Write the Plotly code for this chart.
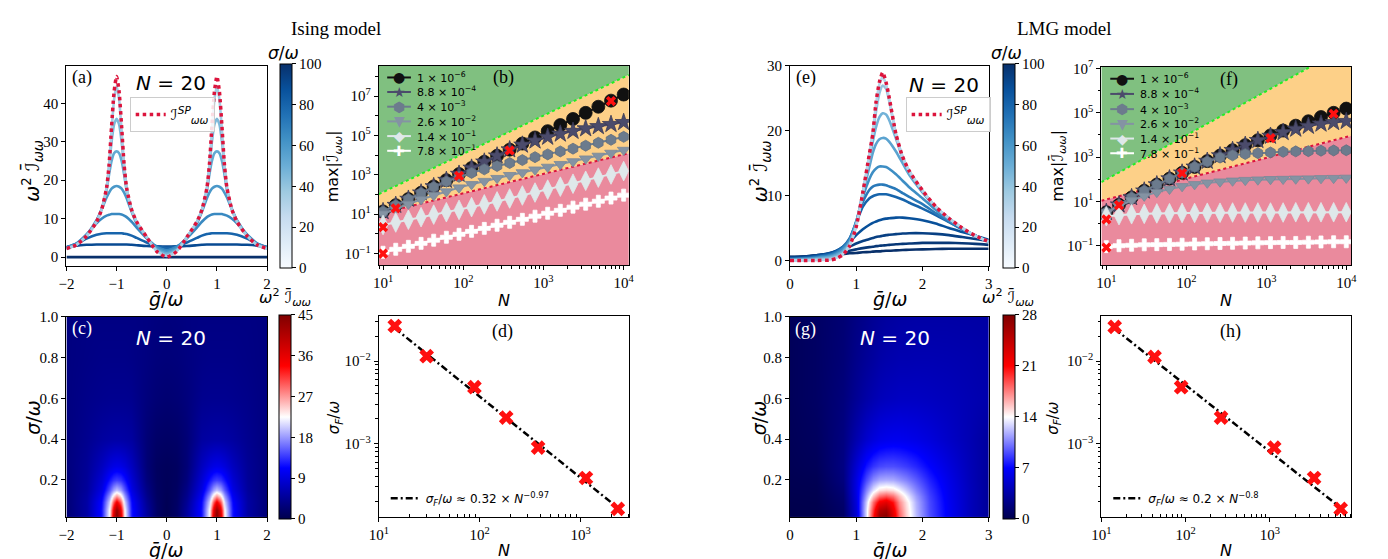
import plotly.graph_objects as go
from plotly.colors import sample_colorscale, sequential

W, H = 1388, 559
SERIF = "Liberation Serif"
SANS = "DejaVu Sans"

# ======================= DATA =======================
# ---- panel (a): Ising, N = 20, curves vs g/omega for several sigma ----
g_a = [-2.0, -1.8, -1.6, -1.4, -1.3, -1.2, -1.15, -1.1, -1.05, -1.0, -0.95, -0.9, -0.85, -0.8, -0.7, -0.6, -0.4, -0.2, 0.0,
       0.2, 0.4, 0.6, 0.7, 0.8, 0.85, 0.9, 0.95, 1.0, 1.05, 1.1, 1.15, 1.2, 1.3, 1.4, 1.6, 1.8, 2.0]
sp_a = [2.2, 3.2, 5.5, 9.2, 12.3, 18, 24, 34, 43, 47, 43, 34, 24, 18, 12.3, 9.2, 5.2, 1.5, 0.0,
        1.5, 5.2, 9.2, 12.3, 18, 24, 34, 43, 47, 43, 34, 24, 18, 12.3, 9.2, 5.5, 3.2, 2.2]
a_s100 = [0.0] * len(g_a)
a_s90 = [2.6, 3.0, 3.2, 3.3, 3.3, 3.3, 3.3, 3.3, 3.3, 3.3, 3.3, 3.3, 3.3, 3.3, 3.2, 3.1, 2.9, 2.8, 2.75,
         2.8, 2.9, 3.1, 3.2, 3.3, 3.3, 3.3, 3.3, 3.3, 3.3, 3.3, 3.3, 3.3, 3.3, 3.3, 3.2, 3.0, 2.6]
a_s80 = [2.6, 3.5, 4.8, 5.8, 6.1, 6.2, 6.2, 6.2, 6.2, 6.2, 6.2, 6.2, 6.1, 6.0, 5.6, 5.0, 3.8, 2.8, 2.4,
         2.8, 3.8, 5.0, 5.6, 6.0, 6.1, 6.2, 6.2, 6.2, 6.2, 6.2, 6.2, 6.2, 6.1, 5.8, 4.8, 3.5, 2.6]
a_s66 = [2.5, 3.6, 5.9, 8.8, 10.0, 10.8, 11.0, 11.2, 11.2, 11.2, 11.2, 11.1, 10.8, 10.4, 9.2, 7.7, 4.9, 2.7, 1.8,
         2.7, 4.9, 7.7, 9.2, 10.4, 10.8, 11.1, 11.2, 11.2, 11.2, 11.2, 11.0, 10.8, 10.0, 8.8, 5.9, 3.6, 2.5]
a_s60 = [2.4, 3.4, 5.8, 9.6, 12.4, 15.5, 16.8, 17.8, 18.3, 18.5, 18.3, 17.8, 16.8, 15.3, 11.8, 8.7, 5.0, 2.3, 1.4,
         2.3, 5.0, 8.7, 11.8, 15.3, 16.8, 17.8, 18.3, 18.5, 18.3, 17.8, 16.8, 15.5, 12.4, 9.6, 5.8, 3.4, 2.4]
a_s52 = [2.3, 3.3, 5.6, 9.4, 12.5, 17.5, 21.5, 25, 27, 27.5, 27, 25, 21.5, 17.3, 12.2, 9.0, 5.2, 2.0, 1.0,
         2.0, 5.2, 9.0, 12.2, 17.3, 21.5, 25, 27, 27.5, 27, 25, 21.5, 17.5, 12.5, 9.4, 5.6, 3.3, 2.3]
a_s45 = [2.2, 3.2, 5.5, 9.3, 12.4, 18, 23.5, 30, 34.5, 36, 34.5, 30, 23.5, 17.8, 12.3, 9.2, 5.2, 1.8, 0.6,
         1.8, 5.2, 9.2, 12.3, 17.8, 23.5, 30, 34.5, 36, 34.5, 30, 23.5, 18, 12.4, 9.3, 5.5, 3.2, 2.2]
a_s35 = [2.2, 3.2, 5.5, 9.2, 12.3, 18, 24, 33, 41, 44.5, 41, 33, 24, 18, 12.3, 9.2, 5.2, 1.6, 0.3,
         1.6, 5.2, 9.2, 12.3, 18, 24, 33, 41, 44.5, 41, 33, 24, 18, 12.3, 9.2, 5.5, 3.2, 2.2]
sigma_a = [100, 90, 80, 66, 60, 52, 45, 35]
curves_a = [a_s100, a_s90, a_s80, a_s66, a_s60, a_s52, a_s45, a_s35]

# ---- panel (e): LMG, N = 20 ----
g_e = [0.0, 0.2, 0.4, 0.6, 0.7, 0.8, 0.9, 1.0, 1.1, 1.2, 1.25, 1.3, 1.35, 1.4, 1.45, 1.5, 1.6, 1.7, 1.8, 2.0, 2.2, 2.4, 2.6, 2.8, 3.0]
sp_e = [0, 0, 0, 0.05, 0.3, 0.9, 2.2, 5.2, 10.5, 16.5, 19.5, 24.5, 27.5, 29, 27.5, 25, 19.5, 16, 13.8, 10.8, 8.3, 6.5, 5.0, 3.8, 2.9]
e_s100 = [0.55, 0.6, 0.75, 0.9, 0.95, 1.0, 1.1, 1.15, 1.25, 1.3, 1.35, 1.4, 1.4, 1.45, 1.5, 1.5, 1.55, 1.6, 1.65, 1.7, 1.75, 1.8, 1.8, 1.8, 1.8]
e_s97 = [0.5, 0.6, 0.8, 1.0, 1.15, 1.3, 1.5, 1.7, 1.9, 2.05, 2.1, 2.2, 2.25, 2.3, 2.35, 2.4, 2.5, 2.55, 2.6, 2.7, 2.7, 2.7, 2.65, 2.55, 2.4]
e_s94 = [0.45, 0.55, 0.8, 1.15, 1.4, 1.7, 2.1, 2.6, 3.0, 3.3, 3.45, 3.6, 3.7, 3.8, 3.9, 3.95, 4.05, 4.15, 4.2, 4.2, 4.1, 3.9, 3.6, 3.3, 3.0]
e_s88 = [0.35, 0.45, 0.7, 1.1, 1.5, 2.1, 2.9, 3.9, 4.8, 5.5, 5.8, 6.0, 6.2, 6.35, 6.45, 6.5, 6.6, 6.6, 6.5, 6.2, 5.7, 5.0, 4.4, 3.8, 3.2]
e_s80 = [0.25, 0.35, 0.6, 0.95, 1.4, 2.1, 3.4, 5.8, 8.3, 9.6, 9.9, 10.1, 10.2, 10.2, 10.2, 10.1, 9.8, 9.4, 8.9, 8.0, 7.0, 5.9, 4.8, 3.8, 3.0]
e_s72 = [0.2, 0.3, 0.5, 0.85, 1.25, 2.0, 3.3, 6.0, 9.0, 10.9, 11.4, 11.6, 11.7, 11.7, 11.6, 11.4, 11.0, 10.4, 9.8, 8.7, 7.3, 6.0, 4.8, 3.7, 2.9]
e_s64 = [0.15, 0.25, 0.4, 0.7, 1.1, 1.8, 3.1, 6.0, 9.8, 12.6, 13.6, 14.2, 14.5, 14.5, 14.4, 14.1, 13.3, 12.3, 11.3, 9.6, 7.8, 6.2, 4.9, 3.8, 2.9]
e_s55 = [0.1, 0.15, 0.3, 0.55, 0.9, 1.5, 2.8, 5.8, 10.3, 14.5, 16.6, 18.0, 18.7, 18.9, 18.8, 18.3, 16.8, 15.0, 13.2, 10.5, 8.2, 6.4, 5.0, 3.8, 2.9]
e_s48 = [0.05, 0.1, 0.2, 0.4, 0.7, 1.3, 2.6, 5.6, 10.5, 15.5, 18.3, 20.6, 22.1, 22.7, 22.5, 21.6, 18.8, 15.8, 13.6, 10.7, 8.3, 6.5, 5.0, 3.8, 2.9]
e_s40 = [0.02, 0.05, 0.1, 0.25, 0.5, 1.1, 2.4, 5.4, 10.5, 16.2, 19.5, 23.0, 25.8, 27.0, 26.5, 24.5, 19.5, 16, 13.8, 10.8, 8.3, 6.5, 5.0, 3.8, 2.9]
e_s30 = [0, 0, 0.05, 0.15, 0.4, 1.0, 2.3, 5.3, 10.5, 16.5, 19.8, 24.2, 27.2, 28.3, 27.2, 24.8, 19.5, 16, 13.8, 10.8, 8.3, 6.5, 5.0, 3.8, 2.9]
sigma_e = [100, 97, 94, 88, 80, 72, 64, 55, 48, 40, 30]
curves_e = [e_s100, e_s97, e_s94, e_s88, e_s80, e_s72, e_s64, e_s55, e_s48, e_s40, e_s30]

# ---- panels (b) and (f): max I vs N ----
N_grid = [10, 14.4, 20.7, 29.8, 42.8, 61.6, 88.6, 127, 183, 264, 379, 546, 785, 1129, 1624, 2336, 3360, 4833, 6952, 10000]
series_labels = ["1 × 10<sup>−6</sup>", "8.8 × 10<sup>−4</sup>", "4 × 10<sup>−3</sup>",
                 "2.6 × 10<sup>−2</sup>", "1.4 × 10<sup>−1</sup>", "7.8 × 10<sup>−1</sup>"]

b_s1 = [13.8, 28.8, 58.9, 123, 257, 537, 1096, 2239, 4571, 9333, 1.906e4, 3.890e4, 7.943e4, 1.660e5, 3.388e5, 6.918e5, 1.413e6, 2.884e6, 5.888e6, 1.202e7]
b_s2 = [13.8, 28.8, 58.9, 123, 257, 537, 1096, 2239, 4571, 9333, 1.906e4, 3.311e4, 5.370e4, 8.318e4, 1.202e5, 1.660e5, 2.239e5, 2.884e5, 3.715e5, 4.677e5]
b_s3 = [13.8, 28.8, 58.9, 120, 240, 457, 794, 1259, 1905, 2818, 3981, 5623, 7943, 10965, 15488, 21380, 30200, 42658, 60256, 85114]
b_s4 = [10.5, 19.1, 33.1, 56.2, 91.2, 141, 224, 331, 479, 676, 955, 1318, 1820, 2512, 3467, 4786, 6607, 9120, 12882, 18197]
b_s5 = [2.82, 3.80, 5.25, 7.08, 9.55, 12.6, 16.6, 22.9, 31.6, 44.7, 63.1, 89.1, 126, 178, 251, 355, 501, 724, 1047, 1549]
b_s6 = [0.117, 0.166, 0.234, 0.331, 0.479, 0.676, 0.955, 1.35, 1.91, 2.75, 3.89, 5.50, 7.94, 11.2, 15.8, 22.9, 32.4, 45.7, 66.1, 93.3]
b_redx_N = [10, 10, 14.4, 88.6, 379, 6952]
b_redx_y = [0.1, 2.2, 20, 890, 1.74e4, 5.6e6]
b_green_N = [8.85, 11600]
b_green_y = [105, 1.2e8]
b_red_N = [8.85, 11600]
b_red_y = [10.5, 12600]

f_s1 = [3.24, 7.08, 15.1, 30.2, 57.5, 107, 195, 363, 661, 1175, 2042, 3467, 5754, 9550, 15849, 26303, 41687, 64565, 1.0e5, 1.549e5]
f_s2 = [3.24, 7.08, 15.1, 30.2, 57.5, 107, 195, 363, 661, 1175, 2042, 3467, 5754, 8913, 13183, 18621, 25119, 31623, 37154, 41687]
f_s3 = [3.24, 7.08, 15.1, 30.2, 57.5, 107, 195, 363, 631, 955, 1202, 1380, 1514, 1622, 1738, 1820, 1862, 1950, 1995, 2042]
f_s4 = [3.16, 6.31, 11.2, 17.8, 26.3, 36.3, 47.9, 58.9, 69.2, 77.6, 85.1, 91.2, 95.5, 100, 102, 105, 107, 110, 112, 115]
f_s5 = [2.14, 2.40, 2.63, 2.75, 2.88, 2.95, 3.02, 3.02, 3.09, 3.09, 3.16, 3.16, 3.16, 3.16, 3.16, 3.24, 3.24, 3.24, 3.24, 3.24]
f_s6 = [0.091, 0.100, 0.105, 0.110, 0.112, 0.115, 0.117, 0.120, 0.123, 0.126, 0.129, 0.132, 0.135, 0.138, 0.141, 0.141, 0.145, 0.148, 0.151, 0.151]
f_redx_N = [10, 10, 14.4, 88.6, 1129, 6952]
f_redx_y = [0.083, 1.55, 6.8, 190, 7200, 9.1e4]
f_green_N = [8.67, 11600]
f_green_y = [74, 1.26e8]
f_red_N = [8.67, 11600]
f_red_y = [10.7, 9330]

# ---- panels (c) and (g): heat maps over (g/omega, sigma/omega) ----
sig_rows = [0.01, 0.05, 0.09, 0.12, 0.15, 0.2, 0.27, 0.4, 0.6, 0.8, 1.0]
g_c = [-2.0, -1.6, -1.3, -1.15, -1.07, -1.0, -0.93, -0.85, -0.7, -0.4, -0.2, 0.0,
       0.2, 0.4, 0.7, 0.85, 0.93, 1.0, 1.07, 1.15, 1.3, 1.6, 2.0]
z_c = [
    [2.5, 5.5, 12, 23, 38, 45, 38, 23, 12, 5.2, 1.5, 0.3, 1.5, 5.2, 12, 23, 38, 45, 38, 23, 12, 5.5, 2.5],
    [2.5, 5.5, 12, 22.5, 36, 43, 36, 22.5, 12, 5.0, 1.6, 0.4, 1.6, 5.0, 12, 22.5, 36, 43, 36, 22.5, 12, 5.5, 2.5],
    [2.6, 5.5, 11.5, 20.5, 30, 35, 30, 20.5, 11.5, 4.5, 1.5, 0.5, 1.5, 4.5, 11.5, 20.5, 30, 35, 30, 20.5, 11.5, 5.5, 2.6],
    [2.6, 5.3, 10.5, 18, 24, 27, 24, 18, 10.5, 4.0, 1.4, 0.6, 1.4, 4.0, 10.5, 18, 24, 27, 24, 18, 10.5, 5.3, 2.6],
    [2.7, 5.0, 9.5, 15, 18.5, 20, 18.5, 15, 9.5, 3.6, 1.3, 0.7, 1.3, 3.6, 9.5, 15, 18.5, 20, 18.5, 15, 9.5, 5.0, 2.7],
    [2.8, 4.8, 8.5, 12, 13.5, 14, 13.5, 12, 8.5, 3.0, 1.2, 0.8, 1.2, 3.0, 8.5, 12, 13.5, 14, 13.5, 12, 8.5, 4.8, 2.8],
    [3.0, 4.6, 7.2, 9.0, 9.6, 9.8, 9.6, 9.0, 7.2, 2.6, 1.2, 0.9, 1.2, 2.6, 7.2, 9.0, 9.6, 9.8, 9.6, 9.0, 7.2, 4.6, 3.0],
    [3.1, 4.2, 5.2, 5.5, 5.6, 5.6, 5.6, 5.5, 5.2, 2.6, 1.7, 1.5, 1.7, 2.6, 5.2, 5.5, 5.6, 5.6, 5.6, 5.5, 5.2, 4.2, 3.1],
    [3.2, 3.8, 4.1, 4.2, 4.2, 4.2, 4.2, 4.2, 4.1, 3.0, 2.5, 2.3, 2.5, 3.0, 4.1, 4.2, 4.2, 4.2, 4.2, 4.2, 4.1, 3.8, 3.2],
    [3.2, 3.5, 3.7, 3.7, 3.7, 3.7, 3.7, 3.7, 3.6, 3.2, 2.9, 2.8, 2.9, 3.2, 3.6, 3.7, 3.7, 3.7, 3.7, 3.7, 3.7, 3.5, 3.2],
    [3.2, 3.4, 3.4, 3.4, 3.4, 3.4, 3.4, 3.4, 3.4, 3.3, 3.1, 3.0, 3.1, 3.3, 3.4, 3.4, 3.4, 3.4, 3.4, 3.4, 3.4, 3.4, 3.2],
]
g_g = [0.0, 0.4, 0.8, 1.0, 1.15, 1.25, 1.35, 1.45, 1.55, 1.65, 1.75, 1.9, 2.1, 2.4, 2.7, 3.0]
z_g = [
    [0, 0, 0.9, 5.2, 13, 20.5, 27, 28, 23, 18.5, 15.5, 12.2, 9.2, 6.5, 4.4, 2.9],
    [0, 0.05, 1.0, 5.4, 13, 19.5, 25, 26, 22, 18, 15.2, 12, 9.1, 6.5, 4.4, 2.9],
    [0.05, 0.1, 1.2, 5.6, 12.5, 18, 21.5, 22.5, 20.5, 17.2, 14.8, 11.8, 9, 6.4, 4.4, 2.9],
    [0.1, 0.15, 1.4, 5.8, 11.5, 15.5, 18, 18.8, 17.8, 15.8, 13.8, 11.3, 8.8, 6.3, 4.4, 2.9],
    [0.15, 0.2, 1.6, 5.9, 10.5, 13.2, 14.8, 15.2, 14.8, 13.8, 12.5, 10.6, 8.5, 6.2, 4.4, 2.9],
    [0.2, 0.3, 1.9, 5.8, 9.0, 10.8, 11.6, 11.8, 11.7, 11.2, 10.6, 9.5, 7.9, 6.0, 4.3, 2.9],
    [0.3, 0.5, 2.1, 5.2, 7.4, 8.4, 8.9, 9.1, 9.1, 8.9, 8.6, 8.0, 7.0, 5.6, 4.2, 3.0],
    [0.4, 0.7, 2.0, 3.8, 5.0, 5.6, 6.0, 6.2, 6.3, 6.3, 6.2, 6.0, 5.6, 4.8, 4.0, 3.1],
    [0.5, 0.9, 1.8, 2.8, 3.5, 3.9, 4.2, 4.4, 4.5, 4.6, 4.6, 4.6, 4.5, 4.3, 4.0, 3.7],
    [0.5, 0.9, 1.6, 2.4, 2.9, 3.2, 3.5, 3.7, 3.8, 3.9, 3.9, 3.95, 3.95, 3.9, 3.8, 3.6],
    [0.5, 0.9, 1.5, 2.1, 2.5, 2.8, 3.0, 3.2, 3.3, 3.4, 3.45, 3.5, 3.5, 3.5, 3.45, 3.4],
]

# ---- panels (d) and (h): sigma_F vs N ----
d_N = [14.4, 29.8, 88.6, 183, 379, 1129, 2336]
d_sig = [0.0266, 0.01146, 0.00483, 0.00207, 0.000898, 0.000385, 0.000163]
d_fit_N = [14.4, 2336]
d_fit_sig = [0.025, 0.000168]
h_N = [14.4, 42.8, 88.6, 264, 1129, 3360, 6952]
h_sig = [0.026, 0.01127, 0.00483, 0.00207, 0.000898, 0.000385, 0.000163]
h_fit_N = [14.4, 6952]
h_fit_sig = [0.0245, 0.000168]

# tick labels
log_tv_b = [0.1, 10, 1e3, 1e5, 1e7]
log_tt_b = ["10<sup>−1</sup>", "10<sup>1</sup>", "10<sup>3</sup>", "10<sup>5</sup>", "10<sup>7</sup>"]
log_tv_N = [10, 100, 1000, 10000]
log_tt_N = ["10<sup>1</sup>", "10<sup>2</sup>", "10<sup>3</sup>", "10<sup>4</sup>"]
log_tv_s = [1e-3, 1e-2]
log_tt_s = ["10<sup>−3</sup>", "10<sup>−2</sup>"]

# ======================= STYLE / LAYOUT =======================
BLUES = sequential.Blues
SEISMIC = [[0, 'rgb(0,0,77)'], [0.25, 'rgb(0,0,255)'], [0.5, 'rgb(255,255,255)'],
           [0.75, 'rgb(255,0,0)'], [1, 'rgb(128,0,0)']]
GREEN = 'rgb(128,192,128)'
ORANGE = 'rgb(253,208,136)'
PINK = 'rgb(234,138,157)'
Y_LO, Y_HI = 1e-4, 1e11

styles = [
    dict(symbol='circle', size=13, color='#111111', line='#111111'),
    dict(symbol='star', size=13, color='#4b4b6b', line='#3a3a55'),
    dict(symbol='hexagon', size=11, color='#6c7b8d', line='#5f6d7e'),
    dict(symbol='triangle-down', size=11, color='#8493a3', line='#7a8898'),
    dict(symbol='diamond-tall', size=14, color='#dfe8ea', line='#dfe8ea'),
    dict(symbol='cross', size=10, color='#ffffff', line='#ffffff'),
]
glyphs = ["●", "★", "⬢", "▼", "◆", "✚"]

boxes = {  # pixel boxes: x0, x1, y0, y1
    'a': (49, 252, 51, 255), 'b': (365, 618, 51, 254),
    'c': (49, 252, 307, 511), 'd': (365, 618, 306, 511),
    'e': (781, 982, 51, 255), 'f': (1096, 1349, 52, 254),
    'g': (781, 982, 307, 511), 'h': (1096, 1349, 306, 511),
}
ax_ids = {'a': 1, 'b': 2, 'c': 3, 'd': 4, 'e': 5, 'f': 6, 'g': 7, 'h': 8}


def px(x):
    return x / W


def py(y):
    return 1 - y / H


def xy(k):
    i = ax_ids[k]
    return ('x' if i == 1 else f'x{i}'), ('y' if i == 1 else f'y{i}')


fig = go.Figure()
annotations = []
shapes = []


def blue(s):
    return sample_colorscale(BLUES, [s / 100.0])[0]


def cbar(x0, x1, y0, y1, tickvals):
    return dict(x=px(x0), xanchor='left', xpad=0, y=py((y0 + y1) / 2), yanchor='middle', ypad=0,
                len=(y1 - y0), lenmode='pixels', thickness=(x1 - x0), thicknessmode='pixels',
                tickvals=tickvals, ticks='outside', ticklen=4, tickwidth=1, tickcolor='black',
                tickfont=dict(family=SERIF, size=15, color='black'), outlinewidth=1, outlinecolor='black')


SP_NAME = "ℐ<sup><i>SP</i></sup><sub><i>ωω</i></sub>"

# ---- (a) and (e) curves ----
for key, gx, curves, sigmas, sp, leg, cbx in [('a', g_a, curves_a, sigma_a, sp_a, 'legend', (265, 277)),
                                               ('e', g_e, curves_e, sigma_e, sp_e, 'legend2', (996, 1008))]:
    xa, ya = xy(key)
    for s, ys in zip(sigmas, curves):
        fig.add_trace(go.Scatter(x=gx, y=ys, mode='lines', xaxis=xa, yaxis=ya, showlegend=False,
                                 hoverinfo='skip',
                                 line=dict(color=blue(s), width=2.6, shape='spline', smoothing=0.6)))
    fig.add_trace(go.Scatter(x=gx, y=sp, mode='lines', xaxis=xa, yaxis=ya, name=SP_NAME, legend=leg,
                             line=dict(color='#dc143c', width=3.5, dash='dot', shape='spline', smoothing=0.6)))
    b = boxes[key]
    fig.add_trace(go.Scatter(x=[None], y=[None], mode='markers', xaxis=xa, yaxis=ya, showlegend=False,
                             marker=dict(color=[0], colorscale=BLUES, cmin=0, cmax=100, showscale=True,
                                         colorbar=cbar(cbx[0], cbx[1], b[2], b[3], [0, 20, 40, 60, 80, 100]))))

# ---- (c) and (g) heat maps ----
for key, gx, z, zmax, tv, cbx in [('c', g_c, z_c, 45, [0, 9, 18, 27, 36, 45], (264, 276)),
                                  ('g', g_g, z_g, 28, [0, 7, 14, 21, 28], (996, 1008))]:
    xa, ya = xy(key)
    b = boxes[key]
    fig.add_trace(go.Heatmap(x=gx, y=sig_rows, z=z, xaxis=xa, yaxis=ya, zmin=0, zmax=zmax,
                             colorscale=SEISMIC, zsmooth='best', hoverinfo='skip',
                             colorbar=cbar(cbx[0], cbx[1], b[2], b[3], tv)))

# ---- (b) and (f) ----
for key, series, rxN, rxY, gN, gY, rN, rY, lg in [
        ('b', [b_s1, b_s2, b_s3, b_s4, b_s5, b_s6], b_redx_N, b_redx_y, b_green_N, b_green_y, b_red_N, b_red_y,
         (385.5, 402, [62.7, 77.5, 92.5, 107.5, 122.5, 137.5])),
        ('f', [f_s1, f_s2, f_s3, f_s4, f_s5, f_s6], f_redx_N, f_redx_y, f_green_N, f_green_y, f_red_N, f_red_y,
         (1117, 1133, [64, 79.5, 95, 110, 125, 140]))]:
    xa, ya = xy(key)
    common = dict(xaxis=xa, yaxis=ya, showlegend=False, hoverinfo='skip', mode='lines', line=dict(width=0))
    fig.add_trace(go.Scatter(x=[rN[0], rN[1], rN[1], rN[0]], y=[Y_LO, Y_LO, rY[1], rY[0]],
                             fill='toself', fillcolor=PINK, **common))
    fig.add_trace(go.Scatter(x=[gN[0], gN[1], rN[1], rN[0]], y=[gY[0], gY[1], rY[1], rY[0]],
                             fill='toself', fillcolor=ORANGE, **common))
    fig.add_trace(go.Scatter(x=[gN[0], gN[1], gN[1], gN[0]], y=[gY[0], gY[1], Y_HI, Y_HI],
                             fill='toself', fillcolor=GREEN, **common))
    fig.add_trace(go.Scatter(x=gN, y=gY, mode='lines', xaxis=xa, yaxis=ya, showlegend=False, hoverinfo='skip',
                             line=dict(color='#22ee22', width=2, dash='dot')))
    fig.add_trace(go.Scatter(x=rN, y=rY, mode='lines', xaxis=xa, yaxis=ya, showlegend=False, hoverinfo='skip',
                             line=dict(color='#dc143c', width=2, dash='dot')))
    for ys, st in zip(series, styles):
        fig.add_trace(go.Scatter(x=N_grid, y=ys, mode='lines+markers', xaxis=xa, yaxis=ya, showlegend=False,
                                 hoverinfo='skip', line=dict(color=st['color'], width=2),
                                 marker=dict(symbol=st['symbol'], size=st['size'], color=st['color'],
                                             line=dict(color=st['line'], width=0.8))))
    fig.add_trace(go.Scatter(x=rxN, y=rxY, mode='markers', xaxis=xa, yaxis=ya, showlegend=False,
                             hoverinfo='skip', marker=dict(symbol='x', size=9, color='#ff1010',
                                                           line=dict(width=0))))
    cx, lx, rows = lg
    for lab, st, gl, ry in zip(series_labels, styles, glyphs, rows):
        shapes.append(dict(type='line', xref='paper', yref='paper', x0=px(cx - 12), x1=px(cx + 12),
                           y0=py(ry), y1=py(ry), line=dict(color=st['color'], width=2)))
        annotations.append(dict(x=px(cx), y=py(ry), xref='paper', yref='paper', text=gl, showarrow=False,
                                xanchor='center', yanchor='middle',
                                font=dict(family=SANS, size=14, color=st['color'])))
        annotations.append(dict(x=px(lx), y=py(ry), xref='paper', yref='paper', text=lab, showarrow=False,
                                xanchor='left', yanchor='middle', font=dict(family=SANS, size=11, color='black')))

# ---- (d) and (h) ----
for key, Nx, sg, fN, fS, leg, name in [
        ('d', d_N, d_sig, d_fit_N, d_fit_sig, 'legend3',
         "<i>σ<sub>F</sub></i>/<i>ω</i> ≈ 0.32 × <i>N</i><sup>−0.97</sup>"),
        ('h', h_N, h_sig, h_fit_N, h_fit_sig, 'legend4',
         "<i>σ<sub>F</sub></i>/<i>ω</i> ≈ 0.2 × <i>N</i><sup>−0.8</sup>")]:
    xa, ya = xy(key)
    fig.add_trace(go.Scatter(x=fN, y=fS, mode='lines', xaxis=xa, yaxis=ya, name=name, legend=leg,
                             line=dict(color='black', width=2.5, dash='7px,3px,2px,3px')))
    fig.add_trace(go.Scatter(x=Nx, y=sg, mode='markers', xaxis=xa, yaxis=ya, showlegend=False,
                             hoverinfo='skip', marker=dict(symbol='x', size=13, color='#ff1010', line=dict(width=0))))

# ---- axes ----
base = dict(showline=True, mirror=True, linecolor='black', linewidth=1.2, ticks='outside', ticklen=4,
            tickwidth=1, tickcolor='black', showgrid=False, zeroline=False,
            tickfont=dict(family=SERIF, size=15, color='black'))


def minor_log(lo, hi):
    return [m * 10.0 ** k for k in range(lo, hi) for m in range(2, 10)]


axes = {
    'a': (dict(range=[-2, 2], tickvals=[-2, -1, 0, 1, 2]), dict(range=[-2.3, 49.7], tickvals=[0, 10, 20, 30, 40])),
    'e': (dict(range=[0, 3], tickvals=[0, 1, 2, 3]), dict(range=[-0.86, 30], tickvals=[0, 10, 20, 30])),
    'c': (dict(range=[-2, 2], tickvals=[-2, -1, 0, 1, 2]),
          dict(range=[0.017, 1.0], tickvals=[0.2, 0.4, 0.6, 0.8, 1.0], tickformat='.1f')),
    'g': (dict(range=[0, 3], tickvals=[0, 1, 2, 3]),
          dict(range=[0.017, 1.0], tickvals=[0.2, 0.4, 0.6, 0.8, 1.0], tickformat='.1f')),
    'b': (dict(type='log', range=[0.947, 4.065], tickvals=log_tv_N, ticktext=log_tt_N,
               minor=dict(tickvals=minor_log(0, 4), ticks='outside', ticklen=2.5, tickcolor='black')),
          dict(type='log', range=[-1.58, 8.53], tickvals=log_tv_b, ticktext=log_tt_b,
               minor=dict(tickvals=[1, 100, 1e4, 1e6, 1e8], ticks='outside', ticklen=2.5, tickcolor='black'))),
    'f': (dict(type='log', range=[0.938, 4.065], tickvals=log_tv_N, ticktext=log_tt_N,
               minor=dict(tickvals=minor_log(0, 4), ticks='outside', ticklen=2.5, tickcolor='black')),
          dict(type='log', range=[-1.87, 7.07], tickvals=log_tv_b, ticktext=log_tt_b,
               minor=dict(tickvals=[1, 100, 1e4, 1e6], ticks='outside', ticklen=2.5, tickcolor='black'))),
    'd': (dict(type='log', range=[1, 3.478], tickvals=log_tv_N[:3], ticktext=log_tt_N[:3],
               minor=dict(tickvals=minor_log(1, 4), ticks='inside', ticklen=3, tickcolor='black')),
          dict(type='log', range=[-3.886, -1.454], tickvals=log_tv_s, ticktext=log_tt_s,
               minor=dict(tickvals=minor_log(-4, -1), ticks='outside', ticklen=2.5, tickcolor='black'))),
    'h': (dict(type='log', range=[1, 3.97], tickvals=log_tv_N[:3], ticktext=log_tt_N[:3],
               minor=dict(tickvals=minor_log(1, 4), ticks='inside', ticklen=3, tickcolor='black')),
          dict(type='log', range=[-3.886, -1.454], tickvals=log_tv_s, ticktext=log_tt_s,
               minor=dict(tickvals=minor_log(-4, -1), ticks='outside', ticklen=2.5, tickcolor='black'))),
}
layout_axes = {}
for k, (xo, yo) in axes.items():
    i = ax_ids[k]
    x0, x1, y0, y1 = boxes[k]
    xn = 'xaxis' if i == 1 else f'xaxis{i}'
    yn = 'yaxis' if i == 1 else f'yaxis{i}'
    xa, ya = xy(k)
    layout_axes[xn] = dict(base, domain=[px(x0), px(x1)], anchor=ya, **xo)
    layout_axes[yn] = dict(base, domain=[py(y1), py(y0)], anchor=xa, **yo)


# ---- text ----
def txt(x, y, t, size, family=SANS, color='black', angle=0, xanchor='center'):
    annotations.append(dict(x=px(x), y=py(y), xref='paper', yref='paper', text=t, showarrow=False,
                            xanchor=xanchor, yanchor='middle', textangle=angle,
                            font=dict(family=family, size=size, color=color)))


IBAR = "<i>ω</i><sup>2</sup> ℐ̄<sub><i>ωω</i></sub>"
GBAR = "<i>ḡ</i>/<i>ω</i>"
txt(322, 13, "Ising model", 19, SERIF)
txt(1058, 13, "LMG model", 19, SERIF)
for lab, x, y, col in [("(a)", 65, 63, 'black'), ("(b)", 491, 63, 'black'), ("(c)", 65, 319, 'white'),
                       ("(d)", 490, 322, 'black'), ("(e)", 797, 63, 'black'), ("(f)", 1225, 65, 'black'),
                       ("(g)", 797, 320, 'white'), ("(h)", 1227, 322, 'black')]:
    txt(x, y, lab, 18, SERIF, col)
for x, y, col in [(155, 68, 'black'), (155, 328, 'white'), (937, 70, 'black'), (887, 328, 'white')]:
    txt(x, y, "<i>N</i> = 20", 20, SANS, col)
# axis titles
txt(15, 158, IBAR, 19, angle=-90)
txt(752, 158, IBAR, 19, angle=-90)
txt(150, 289, GBAR, 19)
txt(882, 289, GBAR, 19)
txt(150, 545, GBAR, 19)
txt(882, 545, GBAR, 19)
txt(15, 410, "<i>σ</i>/<i>ω</i>", 19, angle=-90)
txt(750, 410, "<i>σ</i>/<i>ω</i>", 19, angle=-90)
txt(320, 153, "max|ℐ̄<sub><i>ωω</i></sub>|", 16, angle=-90)
txt(1053, 153, "max|ℐ̄<sub><i>ωω</i></sub>|", 16, angle=-90)
txt(492, 290, "<i>N</i>", 16)
txt(1222, 290, "<i>N</i>", 16)
txt(492, 545, "<i>N</i>", 16)
txt(1222, 545, "<i>N</i>", 16)
txt(321, 410, "<i>σ<sub>F</sub></i>/<i>ω</i>", 15, angle=-90)
txt(1048, 410, "<i>σ<sub>F</sub></i>/<i>ω</i>", 15, angle=-90)
# colorbar titles
txt(269, 38, "<i>σ</i>/<i>ω</i>", 17)
txt(1000, 38, "<i>σ</i>/<i>ω</i>", 17)
txt(270, 287, IBAR, 16)
txt(1002, 287, IBAR, 16)

leg_sp = dict(xref='paper', yref='paper', xanchor='left', yanchor='top', bgcolor='rgba(255,255,255,0.85)',
              bordercolor='#cccccc', borderwidth=1, itemwidth=30, font=dict(family=SANS, size=15, color='black'))
leg_fit = dict(xref='paper', yref='paper', xanchor='left', yanchor='middle', bgcolor='rgba(0,0,0,0)',
               borderwidth=0, itemwidth=30, font=dict(family=SANS, size=12, color='black'))

fig.update_layout(
    width=W, height=H, autosize=False, margin=dict(l=0, r=0, t=0, b=0),
    paper_bgcolor='white', plot_bgcolor='white',
    annotations=annotations, shapes=shapes,
    legend=dict(leg_sp, x=px(113), y=py(83)),
    legend2=dict(leg_sp, x=px(898), y=py(83)),
    legend3=dict(leg_fit, x=px(372), y=py(492)),
    legend4=dict(leg_fit, x=px(1103), y=py(492)),
    **layout_axes,
)

fig.write_html("out.html")
